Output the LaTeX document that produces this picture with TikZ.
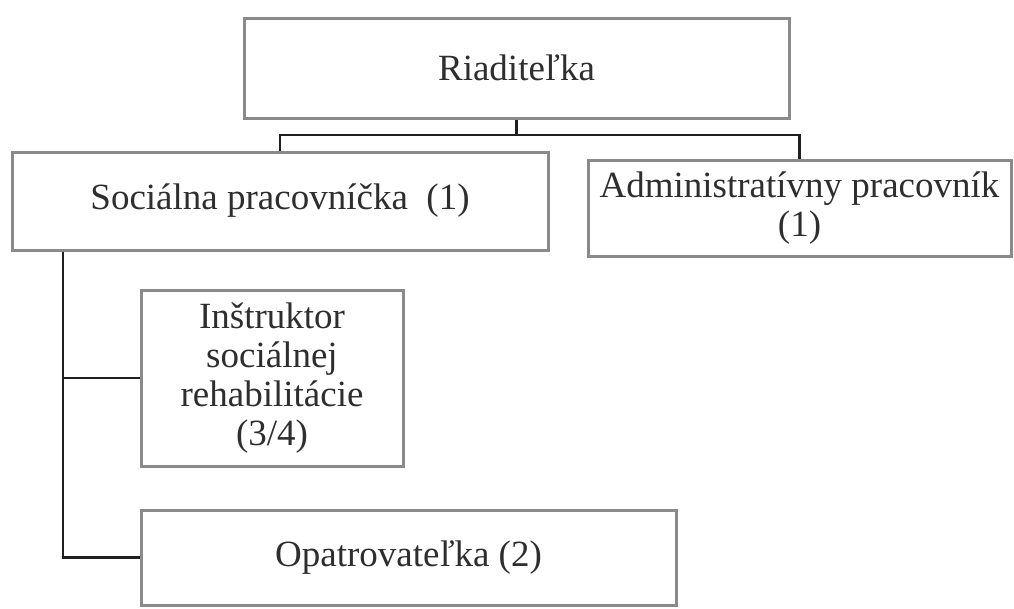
\documentclass[tikz,border=0pt]{standalone}
\usepackage{fontspec}
\setmainfont{Liberation Serif}
\usetikzlibrary{positioning}
\definecolor{boxgray}{HTML}{8A8A8A}
\definecolor{inkgray}{HTML}{2E2E2E}

\begin{document}
\begin{tikzpicture}[x=1pt,y=-1pt,
        box/.style={rectangle,draw=boxgray,line width=3pt,align=center,inner sep=2pt,
          text=inkgray,font=\fontsize{37}{39}\selectfont},
        link/.style={draw=black!88,line width=2.2pt}]
        \useasboundingbox (0,0) rectangle (1014,608);
        \node[box, minimum width=545pt, minimum height=100pt] (boss) at (516.5,68) {Riaditeľka};
        \node[box, minimum width=536pt, minimum height=98pt] (soc) at (280,201) {Sociálna pracovníčka~~(1)};
        \node[box, minimum width=423pt, minimum height=96pt] (adm) at (799.5,208) {Administratívny pracovník\\(1)};
        \node[box, minimum width=262pt, minimum height=176pt] (instr) at (272,378) {Inštruktor\\sociálnej\\rehabilitácie\\(3/4)};
        \node[box, minimum width=535pt, minimum height=95pt] (opat) at (408.5,557.5) {Opatrovateľka (2)};
        \coordinate (bar) at (0,135);
        \coordinate (trunk) at (63,0);
        \draw[link] (boss.south) -- (boss.south |- bar) -| (soc.north);
        \draw[link] (boss.south |- bar) -| (adm.north);
        \draw[link] (soc.south -| trunk) |- (instr.west);
        \draw[link] (soc.south -| trunk) |- (opat.west);
\end{tikzpicture}
\end{document}
